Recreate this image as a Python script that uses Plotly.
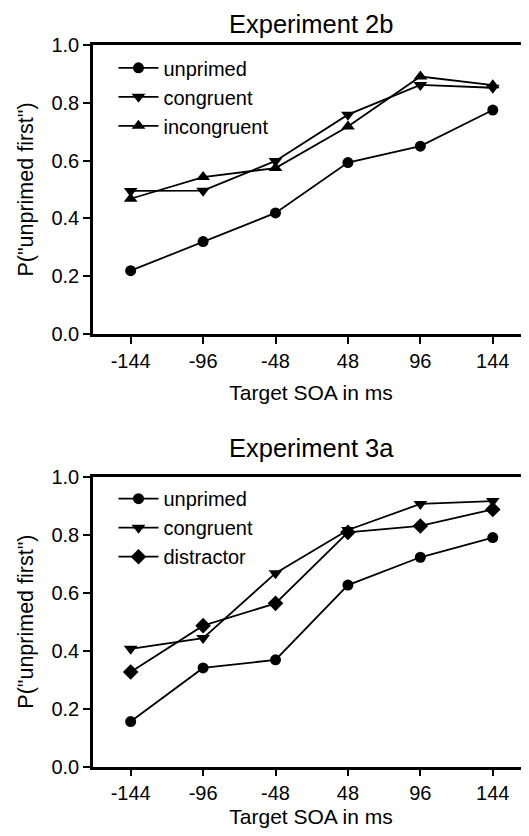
import plotly.graph_objects as go

soa_labels = ["-144", "-96", "-48", "48", "96", "144"]

# Experiment 2b
exp2b_unprimed = [0.219, 0.320, 0.419, 0.593, 0.650, 0.775]
exp2b_congruent = [0.495, 0.496, 0.599, 0.759, 0.862, 0.852]
exp2b_incongruent = [0.468, 0.543, 0.574, 0.718, 0.891, 0.861]

# Experiment 3a
exp3a_unprimed = [0.155, 0.340, 0.368, 0.626, 0.722, 0.790]
exp3a_congruent = [0.406, 0.443, 0.667, 0.816, 0.906, 0.916]
exp3a_distractor = [0.326, 0.486, 0.563, 0.808, 0.830, 0.887]

y_ticks = [0.0, 0.2, 0.4, 0.6, 0.8, 1.0]

FONT = "Arial, Liberation Sans, Helvetica, sans-serif"
# page body has an 8px margin, so the figure is drawn 8px smaller
W, H = 521, 828
ML = 85

fig = go.Figure()

def add(y, name, symbol, size, xa, ya, legend):
    fig.add_trace(go.Scatter(
        x=soa_labels, y=y, name=name, mode="lines+markers",
        line=dict(color="black", width=1.8),
        marker=dict(symbol=symbol, size=size, color="black"),
        xaxis=xa, yaxis=ya, legend=legend,
    ))

add(exp2b_unprimed, "unprimed", "circle", 11, "x", "y", "legend")
add(exp2b_congruent, "congruent", "triangle-down", 12, "x", "y", "legend")
add(exp2b_incongruent, "incongruent", "triangle-up", 12, "x", "y", "legend")

add(exp3a_unprimed, "unprimed", "circle", 11, "x2", "y2", "legend2")
add(exp3a_congruent, "congruent", "triangle-down", 12, "x2", "y2", "legend2")
add(exp3a_distractor, "distractor", "diamond", 12, "x2", "y2", "legend2")

top_dom = [1 - 326 / H, 1 - 37 / H]
bot_dom = [1 - 758.5 / H, 1 - 468.7 / H]

xaxis_common = dict(
    type="category", categoryorder="array", categoryarray=soa_labels,
    range=[-0.52, 5.5], showgrid=False, zeroline=False,
    showline=True, linecolor="black", linewidth=2.5, mirror=True,
    ticks="outside", ticklen=7, tickwidth=2, tickcolor="black",
    tickfont=dict(family=FONT, size=20, color="black"),
    automargin=False, fixedrange=True,
)
yaxis_common = dict(
    range=[0, 1], tickvals=y_ticks, tickformat=".1f",
    showgrid=False, zeroline=False,
    showline=True, linecolor="black", linewidth=2.5,
    ticks="outside", ticklen=7, tickwidth=2, tickcolor="black",
    tickfont=dict(family=FONT, size=20, color="black"),
    automargin=False, fixedrange=True,
)

legend_common = dict(
    x=0.047, xanchor="left", yanchor="top",
    font=dict(family=FONT, size=20, color="black"),
    bgcolor="rgba(0,0,0,0)", tracegroupgap=0, itemwidth=40,
)

fig.update_layout(
    width=W, height=H,
    margin=dict(l=ML, r=0, t=0, b=0),
    paper_bgcolor="white", plot_bgcolor="white",
    font=dict(family=FONT, color="black"),
    xaxis=dict(**xaxis_common, domain=[0, 1], anchor="y",
               title=dict(text="Target SOA in ms", font=dict(size=21), standoff=15)),
    yaxis=dict(**yaxis_common, domain=top_dom, anchor="x",
               title=dict(text='P("unprimed first")', font=dict(size=21.5), standoff=12)),
    xaxis2=dict(**xaxis_common, domain=[0, 1], anchor="y2",
                title=dict(text="Target SOA in ms", font=dict(size=21), standoff=7)),
    yaxis2=dict(**yaxis_common, domain=bot_dom, anchor="x2",
                title=dict(text='P("unprimed first")', font=dict(size=21.5), standoff=12)),
    legend=dict(**legend_common, y=top_dom[1] - 0.004),
    legend2=dict(**legend_common, y=bot_dom[1] - 0.003),
    annotations=[
        dict(text="Experiment 2b", xref="x domain", yref="y domain", x=0.5, y=1,
             yanchor="middle", yshift=21, showarrow=False,
             font=dict(family=FONT, size=25.5, color="black")),
        dict(text="Experiment 3a", xref="x2 domain", yref="y2 domain", x=0.5, y=1,
             yanchor="middle", yshift=29, showarrow=False,
             font=dict(family=FONT, size=25.5, color="black")),
    ],
)

fig.write_html("out.html")
